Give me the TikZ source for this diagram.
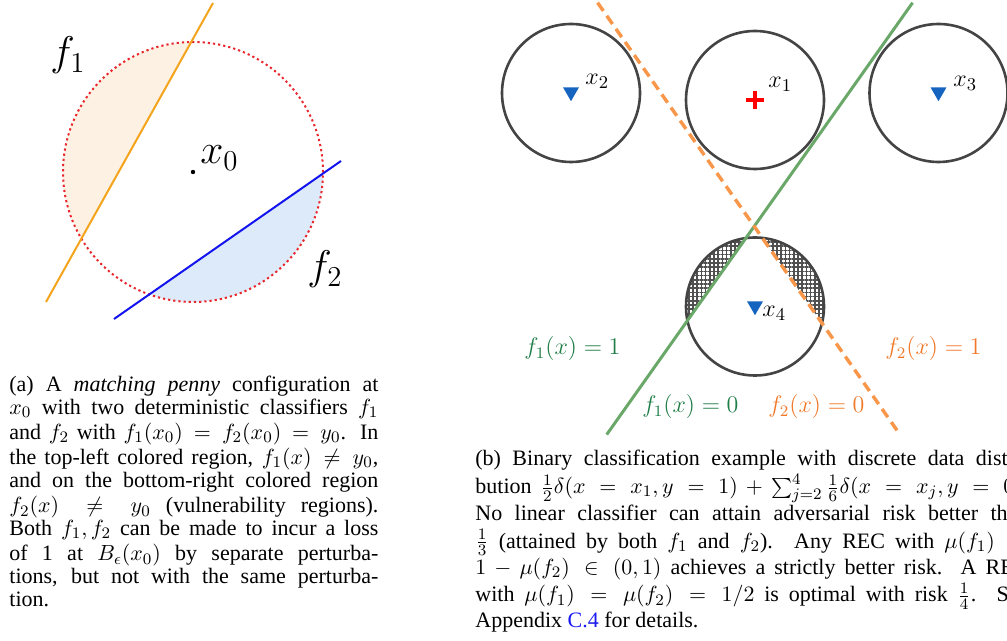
\documentclass[tikz,border=0pt]{standalone}
\usepackage{fontspec}
\setmainfont{Liberation Serif}
\usetikzlibrary{patterns.meta,shapes.geometric}
\definecolor{fillor}{HTML}{FCF1E3}
\definecolor{fillbl}{HTML}{DDEAF9}
\definecolor{lineor}{HTML}{F4A41C}
\definecolor{linebl}{HTML}{1414EE}
\definecolor{dotred}{HTML}{E8262C}
\definecolor{circgray}{HTML}{444444}
\definecolor{pattgray}{HTML}{505050}
\definecolor{greenline}{HTML}{6AA86A}
\definecolor{orangedash}{HTML}{F8964A}
\definecolor{greentext}{HTML}{1E7D46}
\definecolor{orangetext}{HTML}{F07828}
\definecolor{markblue}{HTML}{1565C0}
\definecolor{linkblue}{HTML}{1A1AF0}
\newlength\capwa \setlength\capwa{184.5pt}
\newlength\capwb \setlength\capwb{276.5pt}
\newcommand\capfull[2]{\hbox to #1{\strut #2}}
\newcommand\caplast[1]{\hbox{\strut #1}}
\tikzset{
  biglab/.style={inner sep=0pt, anchor=base west, font=\fontsize{22pt}{26pt}\selectfont},
  ptlab/.style={inner sep=0pt, anchor=base west, font=\fontsize{13pt}{15pt}\selectfont},
  fnlab/.style={inner sep=0pt, anchor=base west, font=\fontsize{11.5pt}{14pt}\selectfont},
  captext/.style={inner sep=0pt, anchor=north west, font=\fontsize{11pt}{11.4pt}\selectfont},
  ballb/.style={draw=circgray, line width=1.3pt},
  trimark/.style={regular polygon, regular polygon sides=3, shape border rotate=180, fill=markblue, inner sep=0pt, minimum size=9.2pt},
}
\begin{document}
\begin{tikzpicture}[x=0.5pt,y=-0.5pt]
\useasboundingbox (0,0) rectangle (1007,641);
% ---------------- panel (a) ----------------
\coordinate (c0) at (193,172);
\coordinate (o1) at (213,3);
\coordinate (o2) at (46,302);
\coordinate (b1) at (341,161);
\coordinate (b2) at (114,319);
\begin{scope}
  \clip (c0) circle[radius=65pt];
  \fill[fillor] (296.5,-146.5) -- (-37.5,451.5) -- (-300,451.5) -- (-300,-146.5) -- cycle;
  \fill[fillbl] (454.5,82) -- (0.5,398) -- (0.5,600) -- (454.5,600) -- cycle;
\end{scope}
\draw[dotred, line width=1pt, dash pattern=on 1.1pt off 1.5pt] (c0) circle[radius=65pt];
\draw[lineor, line width=1pt] (o1) -- (o2);
\draw[linebl, line width=1pt] (b1) -- (b2);
\fill (c0) circle[radius=1.1pt];
\node[biglab] (lx0) at (200,164) {$x_0$};
\node[biglab] (lf1) at (50,66) {$f_1$};
\node[biglab] (lf2) at (307,280) {$f_2$};
% ---------------- panel (b) ----------------
\coordinate (p2) at (571,93);
\coordinate (p1) at (755,100);
\coordinate (p3) at (938.5,93);
\coordinate (p4) at (755,306.5);
\coordinate (g1) at (912.6,2.7);
\coordinate (g2) at (606.7,434.6);
\coordinate (d1) at (597.6,2.7);
\coordinate (d2) at (900,434.6);
\begin{scope}
  \clip (p4) circle[radius=34.5pt];
  \fill[pattern={Hatch[distance=2.1pt,angle=0,line width=0.8pt]}, pattern color=pattgray]
    (g1) -- (g2) -- (480,434.6) -- (480,2.7) -- cycle;
  \fill[pattern={Hatch[distance=2.1pt,angle=0,line width=0.8pt]}, pattern color=pattgray]
    (d1) -- (d2) -- (1007,434.6) -- (1007,2.7) -- cycle;
\end{scope}
\draw[ballb] (p2) circle[radius=34.5pt];
\draw[ballb] (p1) circle[radius=34.5pt];
\draw[ballb] (p3) circle[radius=34.5pt];
\draw[ballb] (p4) circle[radius=34.5pt];
\draw[greenline, line width=1.5pt] (g1) -- (g2);
\draw[orangedash, line width=1.7pt, dash pattern=on 5pt off 3pt] (d1) -- (d2);
\node[trimark] (m2) at (571,92) {};
\node[trimark] (m3) at (938.5,92) {};
\node[trimark] (m4) at (755,306) {};
\draw[red, line width=1.6pt] (746,100) -- (764,100) (755,91) -- (755,109);
\node[ptlab] (lx2) at (585,84.5) {$x_2$};
\node[ptlab] (lx1) at (768,88) {$x_1$};
\node[ptlab] (lx3) at (953,86.5) {$x_3$};
\node[ptlab] (lx4) at (762,316.5) {$x_4$};
\node[fnlab, text=greentext] (l11) at (524,355) {$f_1(x) = 1$};
\node[fnlab, text=orangetext] (l21) at (885,355) {$f_2(x) = 1$};
\node[fnlab, text=greentext] (l10) at (642,412.8) {$f_1(x) = 0$};
\node[fnlab, text=orangetext] (l20) at (768,412.8) {$f_2(x) = 0$};
% ---------------- captions ----------------
\node[captext] (capa) at (9,375) {\vbox{%
\capfull{\capwa}{(a) A \emph{matching penny} configuration at}
\capfull{\capwa}{$x_0$ with two deterministic classifiers $f_1$}
\capfull{\capwa}{and $f_2$ with $f_1(x_0) = f_2(x_0) = y_0$. In}
\capfull{\capwa}{the top-left colored region, $f_1(x) \neq y_0$,}
\capfull{\capwa}{and on the bottom-right colored region}
\capfull{\capwa}{$f_2(x) \neq y_0$ (vulnerability regions).}
\capfull{\capwa}{Both $f_1, f_2$ can be made to incur a loss}
\capfull{\capwa}{of 1 at $B_\epsilon(x_0)$ by separate perturba-}
\capfull{\capwa}{tions, but not with the same perturba-}
\caplast{tion.}}};
\node[captext] (capb) at (475,449) {\vbox{%
\capfull{\capwb}{(b) Binary classification example with discrete data distri-}
\capfull{\capwb}{bution $\frac{1}{2}\delta(x = x_1, y = 1) + \sum_{j=2}^{4}\frac{1}{6}\delta(x = x_j, y = 0)$.}
\capfull{\capwb}{No linear classifier can attain adversarial risk better than}
\capfull{\capwb}{$\frac{1}{3}$ (attained by both $f_1$ and $f_2$). Any REC with $\mu(f_1) =$}
\capfull{\capwb}{$1 - \mu(f_2) \in (0, 1)$ achieves a strictly better risk. A REC}
\capfull{\capwb}{with $\mu(f_1) = \mu(f_2) = 1/2$ is optimal with risk $\frac{1}{4}$. See}
\caplast{Appendix \textcolor{linkblue}{C.4} for details.}}};
\end{tikzpicture}
\end{document}
